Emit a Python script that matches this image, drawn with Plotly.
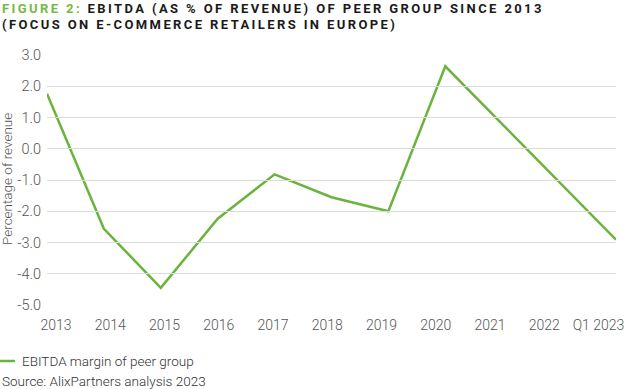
import plotly.graph_objects as go

categories = ["2013", "2014", "2015", "2016", "2017", "2018", "2019", "2020", "2021", "2022", "Q1 2023"]
ebitda_margin = [1.76, -2.56, -4.45, -2.24, -0.82, -1.55, -2.0, 2.64, 0.79, -1.06, -2.91]
y_ticks = [3, 2, 1, 0, -1, -2, -3, -4, -5]
y_tick_labels = ["3.0", "2.0", "1.0", "0.0", "-1.0", "-2.0", "-3.0", "-4.0", "-5.0"]

series_name = "EBITDA margin of peer group"
source_text = "Source: AlixPartners analysis 2023"
y_title = "Percentage of revenue"
title_prefix = "FIGURE 2:"
title_line1 = "EBITDA (AS % OF REVENUE) OF PEER GROUP SINCE 2013"
title_line2 = "(FOCUS ON E-COMMERCE RETAILERS IN EUROPE)"

LINE_GREEN = "#6ab43e"
TITLE_GREEN = "#76b944"

W, H = 625, 389
L, R, T, B = 47, 9, 55, 84
PW = W - L - R
PH = H - T - B


def px_x(px):
    return (px - L) / PW


def px_y(py):
    return (H - B - py) / PH


fig = go.Figure()
fig.add_trace(go.Scatter(
    x=categories, y=ebitda_margin, mode="lines", name=series_name,
    line=dict(color=LINE_GREEN, width=2.5), showlegend=False, hoverinfo="x+y",
))
# carrier trace for the label axis
fig.add_trace(go.Scatter(
    x=categories, y=[None] * len(categories), xaxis="x2", yaxis="y",
    mode="lines", showlegend=False, hoverinfo="skip",
))

fig.update_layout(
    width=W, height=H,
    margin=dict(l=L, r=R, t=T, b=B, autoexpand=False),
    paper_bgcolor="white", plot_bgcolor="rgba(0,0,0,0)",
    font=dict(family="Roboto", color="#555555"),
    xaxis=dict(
        type="category", categoryorder="array", categoryarray=categories,
        range=[0, 10], domain=[0, 1], showgrid=False, zeroline=False,
        showticklabels=False, showline=False, ticks="", automargin=False,
    ),
    xaxis2=dict(
        type="category", categoryorder="array", categoryarray=categories,
        range=[0, 10], domain=[px_x(56), px_x(598.5)], anchor="y",
        showgrid=False, zeroline=False, showline=False, ticks="", automargin=False,
        tickfont=dict(family="Roboto", size=14, color="#555555", weight=300),
        ticklabelstandoff=10,
    ),
    yaxis=dict(
        range=[-5, 3], tickvals=y_ticks, ticktext=y_tick_labels,
        showgrid=True, gridcolor="#dcdcdc", gridwidth=1, zeroline=False,
        showline=False, ticks="", automargin=False,
        tickfont=dict(family="Roboto", size=14.5, color="#555555", weight=300),
        ticklabelstandoff=5,
    ),
)

title_font = dict(family="Roboto", size=13, color="#1a1a1a", weight=700)
spacing = "letter-spacing:2.4px"
fig.add_annotation(
    text=f'<span style="{spacing}"><span style="color:{TITLE_GREEN}">{title_prefix}</span> {title_line1}</span>',
    xref="paper", yref="paper", x=px_x(0), y=px_y(8), xanchor="left", yanchor="middle",
    showarrow=False, font=title_font,
)
fig.add_annotation(
    text=f'<span style="{spacing}">{title_line2}</span>',
    xref="paper", yref="paper", x=px_x(0), y=px_y(24.5), xanchor="left", yanchor="middle",
    showarrow=False, font=title_font,
)

fig.add_annotation(
    text=y_title, textangle=-90, xref="paper", yref="paper",
    x=px_x(7), y=px_y(179), xanchor="center", yanchor="middle", showarrow=False,
    font=dict(family="Roboto", size=13.5, color="#555555", weight=300),
)

# legend drawn as a line sample and its label
fig.add_shape(type="line", xref="paper", yref="paper",
              x0=px_x(0), x1=px_x(15), y0=px_y(361), y1=px_y(361),
              line=dict(color=LINE_GREEN, width=2.5))
fig.add_annotation(text=series_name, xref="paper", yref="paper",
                   x=px_x(20), y=px_y(361), xanchor="left", yanchor="middle",
                   showarrow=False, font=dict(family="Roboto", size=13.5, color="#333333", weight=300))
fig.add_annotation(text=source_text, xref="paper", yref="paper",
                   x=px_x(0), y=px_y(380.5), xanchor="left", yanchor="middle",
                   showarrow=False, font=dict(family="Roboto", size=13.5, color="#333333", weight=300))

fig.write_html("out.html", config={"displayModeBar": False},
               post_script="document.body.style.margin='0';")
